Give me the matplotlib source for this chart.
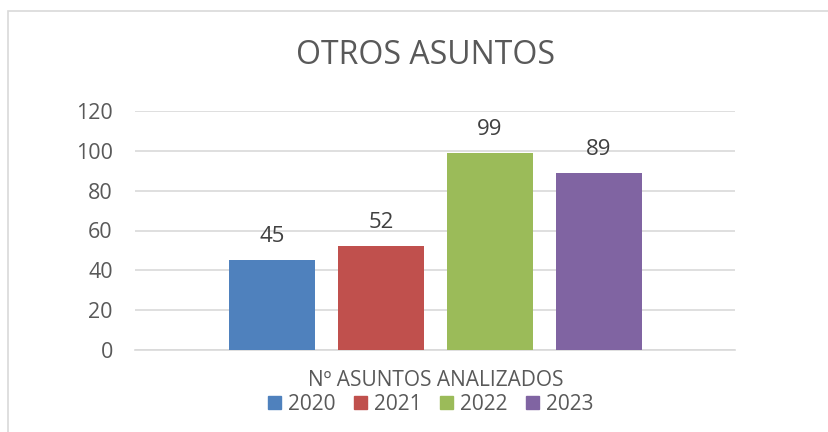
import matplotlib.pyplot as plt
from matplotlib.patches import Rectangle

years = ['2020', '2021', '2022', '2023']
values = [45, 52, 99, 89]
colors = ['#4F81BD', '#C0504D', '#9BBB59', '#8064A2']

plt.rcParams['font.family'] = ['Open Sans', 'DejaVu Sans']
text_color = '#595959'

fig = plt.figure(figsize=(8.29, 4.32), dpi=100)
fig.patches.append(Rectangle((8 / 829, -0.1), 1.2, 1.1 - 11 / 432, transform=fig.transFigure,
                             fill=False, edgecolor='#D9D9D9', linewidth=1.2, zorder=0))

ax = fig.add_axes([135 / 829, (432 - 350) / 432, 600 / 829, (350 - 111) / 432])

positions = list(range(len(years)))
bars = ax.bar(positions, values, width=0.79, color=colors, zorder=3)
for bar, value in zip(bars, values):
    ax.text(bar.get_x() + bar.get_width() / 2, value + 6.5, str(value),
            ha='center', va='bottom', fontsize=16, color='#404040')

ax.set_xlim(-1.257, 4.248)
ax.set_ylim(0, 120)
ax.set_yticks(range(0, 121, 20))
ax.yaxis.grid(True, color='#D9D9D9', linewidth=1.2, zorder=0)
ax.set_xticks([])
for side in ['top', 'right', 'left']:
    ax.spines[side].set_visible(False)
ax.spines['bottom'].set_color('#D9D9D9')
ax.spines['bottom'].set_linewidth(1.2)
ax.tick_params(axis='y', length=0, labelsize=15.5, labelcolor=text_color, pad=16)

fig.text(425 / 829, 1 - 55 / 432, 'OTROS ASUNTOS', ha='center', va='center',
         fontsize=23, color=text_color)
fig.text(436 / 829, 1 - 381 / 432, 'Nº ASUNTOS ANALIZADOS', ha='center', va='center',
         fontsize=15, color=text_color)

handles = [Rectangle((0, 0), 1, 1, color=c) for c in colors]
fig.legend(handles, years, loc='center', bbox_to_anchor=(431 / 829, 1 - 404 / 432), ncol=4,
           frameon=False, fontsize=15, labelcolor=text_color, handlelength=0.6,
           handleheight=0.6, handletextpad=0.35, columnspacing=0.9)

plt.savefig('out.png', dpi=100)
